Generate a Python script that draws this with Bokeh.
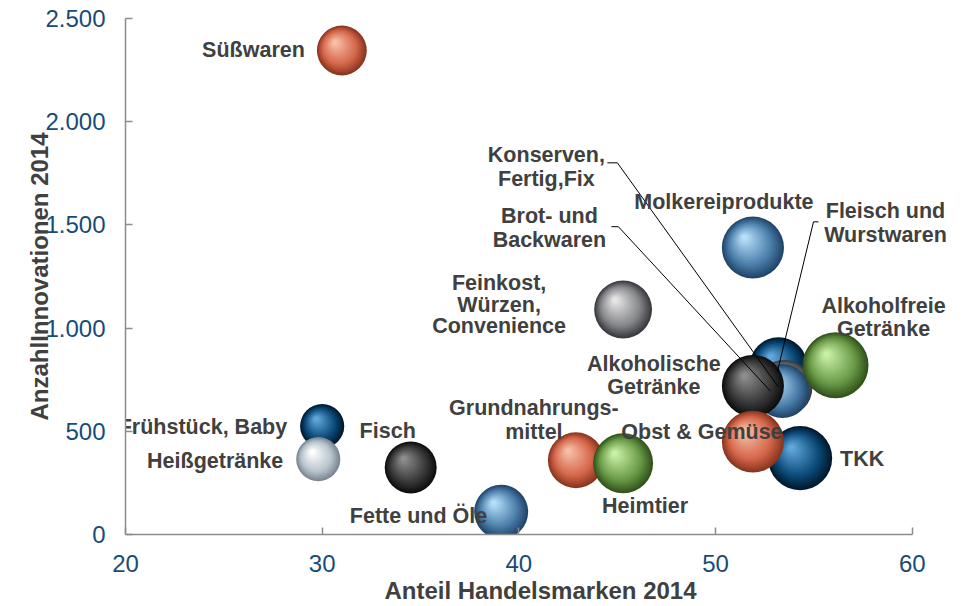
import math
from bokeh.plotting import figure
from bokeh.models import Range1d, FixedTicker, ColumnDataSource
from bokeh.core.properties import value
from bokeh.embed import file_html
from bokeh.resources import INLINE

# ---------------- data ----------------
kategorien = ["Süßwaren", "Frühstück, Baby", "Heißgetränke", "Fisch", "Fette und Öle",
              "Grundnahrungsmittel", "Heimtier", "Feinkost, Würzen, Convenience",
              "Molkereiprodukte", "Fleisch und Wurstwaren", "Konserven, Fertig,Fix",
              "Brot- und Backwaren", "Alkoholfreie Getränke", "TKK",
              "Alkoholische Getränke", "Obst & Gemüse"]
anteil_handelsmarken = [31.0, 30.0, 29.8, 34.5, 39.1, 42.9, 45.3, 45.3,
                        51.9, 53.2, 53.5, 53.4, 56.1, 54.3, 51.9, 51.9]
anzahl_innovationen = [2345, 525, 365, 325, 110, 360, 345, 1090,
                       1390, 815, 710, 695, 820, 370, 720, 450]
blasen_groesse = [69, 54, 54, 75, 81, 87, 100, 93, 107, 93, 87, 81, 121, 114, 107, 107]
farbgruppe = ["orange", "dunkelblau", "silber", "anthrazit", "stahlblau", "orange", "gruen",
              "grau", "stahlblau", "dunkelblau", "grau", "stahlblau", "gruen", "dunkelblau",
              "anthrazit", "orange"]

x_ticks = [20, 30, 40, 50, 60]
x_tick_labels = ["20", "30", "40", "50", "60"]
y_ticks = [0, 500, 1000, 1500, 2000, 2500]
y_tick_labels = ["0", "500", "1.000", "1.500", "2.000", "2.500"]

x_titel = "Anteil Handelsmarken 2014"
y_titel = "AnzahlInnovationen 2014"

# ---------------- styles / layout ----------------
palette = {  # edge, base, highlight
    "orange": ("#8A3620", "#D4664A", "#F7C0A8"),
    "dunkelblau": ("#021A2E", "#0B4A78", "#62A8DC"),
    "silber": ("#7A8792", "#B8C4CD", "#FFFFFF"),
    "anthrazit": ("#0E0E0E", "#393939", "#8E8E8E"),
    "stahlblau": ("#22466A", "#4B7EAA", "#B8E0FA"),
    "gruen": ("#33541D", "#6A9B48", "#CAF0A6"),
    "grau": ("#3C3C40", "#85868A", "#E6E6E6"),
}

label_layout = {
    "Süßwaren": [("Süßwaren", -37, 0, "right")],
    "Frühstück, Baby": [("Frühstück, Baby", -35, 1, "right")],
    "Heißgetränke": [("Heißgetränke", -35, 2, "right")],
    "Fisch": [("Fisch", -23, -37, "center")],
    "Fette und Öle": [("Fette und Öle", -14, 4, "right")],
    "Grundnahrungsmittel": [("Grundnahrungs-", -42, -52, "center"), ("mittel", -42, -28, "center")],
    "Heimtier": [("Heimtier", 22, 43, "center")],
    "Feinkost, Würzen, Convenience": [("Feinkost,", -124, -27, "center"), ("Würzen,", -124, -5, "center"),
                                      ("Convenience", -124, 17, "center")],
    "Molkereiprodukte": [("Molkereiprodukte", -29, -46, "center")],
    "Fleisch und Wurstwaren": [("Fleisch und", 107, -156, "center"), ("Wurstwaren", 107, -132, "center")],
    "Konserven, Fertig,Fix": [("Konserven,", -238, -234, "center"), ("Fertig,Fix", -238, -210, "center")],
    "Brot- und Backwaren": [("Brot- und", -233, -176, "center"), ("Backwaren", -233, -152, "center")],
    "Alkoholfreie Getränke": [("Alkoholfreie", 48, -59, "center"), ("Getränke", 48, -36, "center")],
    "TKK": [("TKK", 40, 1, "left")],
    "Alkoholische Getränke": [("Alkoholische", -99, -22, "center"), ("Getränke", -99, 1, "center")],
    "Obst & Gemüse": [("Obst & Gemüse", -51, -10, "center")],
}
leader_layout = {
    "Konserven, Fertig,Fix": [(-177, -226), (-167, -226), (-6, -1)],
    "Brot- und Backwaren": [(-171, -165), (-164, -165), (-12, 0)],
    "Fleisch und Wurstwaren": [(40, -145), (35, -145), (-1, 5)],
}

W, H = 970, 606
LEFT, TOP, FRAME_W, FRAME_H = 125, 18, 830, 518
RIGHT = W - LEFT - FRAME_W
BOTTOM = H - TOP - FRAME_H
X0, X1 = 20, 62.2
Y0, Y1 = 0, 2500
SX = FRAME_W / (X1 - X0)
SY = FRAME_H / (Y1 - Y0)

TEXT_FONT = "Liberation Sans"
TEXT_COLOR = "#404040"
TICK_COLOR = "#174C78"
AXIS_COLOR = "#8C8C8C"


def hex2rgb(h):
    h = h.lstrip("#")
    return tuple(int(h[i:i + 2], 16) for i in (0, 2, 4))


def mix(c1, c2, t):
    a, b = hex2rgb(c1), hex2rgb(c2)
    return "#%02x%02x%02x" % tuple(int(round(a[k] + (b[k] - a[k]) * t)) for k in range(3))


def shade(pal, t):
    edge, base, hi = pal
    if t < 0.3:
        return mix(edge, base, t / 0.3)
    return mix(base, hi, min(1.0, (t - 0.3) / 0.62))


p = figure(width=W, height=H, output_backend="svg", toolbar_location=None,
           x_range=Range1d(X0, X1), y_range=Range1d(Y0, Y1),
           min_border_left=LEFT, min_border_right=RIGHT, min_border_top=TOP,
           min_border_bottom=BOTTOM)
p.outline_line_color = None
p.grid.visible = False
p.background_fill_color = "white"
p.border_fill_color = "white"

# bubbles: layered circles give a spherical shading
bx, by, bs, bc = [], [], [], []
N = 22
for k in range(len(kategorien)):
    r = 3.0 * math.sqrt(blasen_groesse[k])
    pal = palette[farbgruppe[k]]
    hx = -0.30 * r / SX
    hy = 0.36 * r / SY
    for i in range(N):
        t = i / N
        bx.append(anteil_handelsmarken[k] + t * hx)
        by.append(anzahl_innovationen[k] + t * hy)
        bs.append(2 * r * (1 - t))
        bc.append(shade(pal, t))
src = ColumnDataSource(dict(x=bx, y=by, s=bs, c=bc))
p.scatter("x", "y", size="s", fill_color="c", line_color=None, source=src)

# leader lines
lxs, lys = [], []
for k, name in enumerate(kategorien):
    if name in leader_layout:
        pts = leader_layout[name]
        lxs.append([anteil_handelsmarken[k] + dx / SX for dx, dy in pts])
        lys.append([anzahl_innovationen[k] - dy / SY for dx, dy in pts])
p.multi_line(lxs, lys, line_color="black", line_width=1)

# labels
tx, ty, tt, ta = [], [], [], []
for k, name in enumerate(kategorien):
    for (txt, dx, dy, al) in label_layout[name]:
        tx.append(anteil_handelsmarken[k] + dx / SX)
        ty.append(anzahl_innovationen[k] - dy / SY)
        tt.append(txt)
        ta.append(al)
lsrc = ColumnDataSource(dict(x=tx, y=ty, t=tt, a=ta))
p.text("x", "y", text="t", text_align="a", text_baseline="middle", source=lsrc,
       text_font=value(TEXT_FONT), text_font_style="bold", text_font_size="21.5px",
       text_color=TEXT_COLOR)

# axes
p.xaxis.ticker = FixedTicker(ticks=x_ticks)
p.xaxis.major_label_overrides = {t: l for t, l in zip(x_ticks, x_tick_labels)}
p.xaxis.bounds = (20, 60)
p.yaxis.ticker = FixedTicker(ticks=y_ticks)
p.yaxis.major_label_overrides = {t: l for t, l in zip(y_ticks, y_tick_labels)}
for ax in (p.xaxis[0], p.yaxis[0]):
    ax.axis_line_color = AXIS_COLOR
    ax.axis_line_width = 1.5
    ax.major_tick_line_color = AXIS_COLOR
    ax.major_tick_line_width = 1.5
    ax.major_tick_in = 7
    ax.major_tick_out = 0
    ax.minor_tick_line_color = None
    ax.major_label_text_font = TEXT_FONT
    ax.major_label_text_font_size = "24px"
    ax.major_label_text_color = TICK_COLOR
    ax.axis_label_text_font = TEXT_FONT
    ax.axis_label_text_font_style = "bold"
    ax.axis_label_text_font_size = "24px"
    ax.axis_label_text_color = TEXT_COLOR
p.xaxis.axis_label = x_titel
p.yaxis.axis_label = y_titel
p.xaxis.major_label_standoff = 20
p.xaxis.axis_label_standoff = 2
p.yaxis.major_label_standoff = 20
p.yaxis.axis_label_standoff = -11

open("out.html", "w").write(file_html(p, INLINE))
